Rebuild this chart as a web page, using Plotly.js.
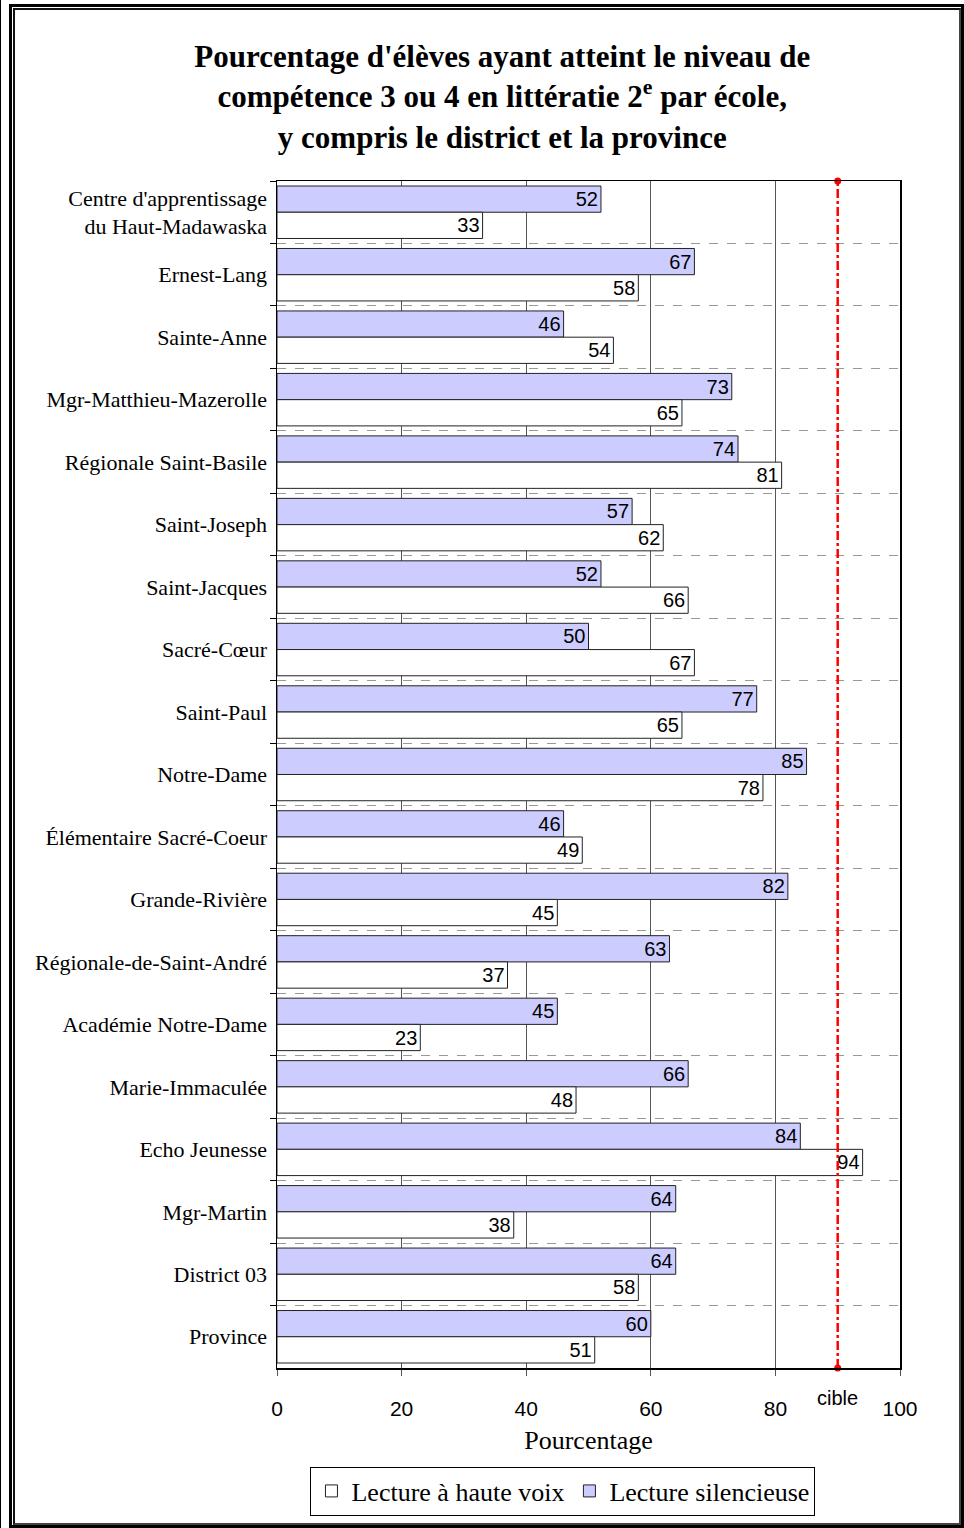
<!DOCTYPE html>
<html>
<head>
<meta charset="utf-8">
<script src="https://cdn.plot.ly/plotly-3.0.1.min.js"></script>
<style>
  html, body { margin:0; padding:0; background:#fff; }
  #wrap { position:relative; width:964px; height:1528px; overflow:hidden; }
  #chart { position:absolute; left:0; top:0; width:964px; height:1528px; }
  .line0 { position:absolute; left:0; top:0; width:1px; height:1528px; background:#000; z-index:5; }
  .frame { position:absolute; left:9px; top:4px; width:955px; height:1524px; box-sizing:border-box; border:3px solid #000; z-index:5; pointer-events:none; }
  .frame2 { position:absolute; left:1px; top:1px; right:0; bottom:0; border-left:2px solid #111; border-top:2px solid #111; border-right:2px solid #444; border-bottom:2px solid #444; box-sizing:border-box; }
</style>
</head>
<body>
<div id="wrap">
  <div id="chart"></div>
  <div class="line0"></div>
  <div class="frame"><div class="frame2"></div></div>
</div>
<script>
const categories = [
  "Centre d'apprentissage<br>du Haut-Madawaska",
  "Ernest-Lang",
  "Sainte-Anne",
  "Mgr-Matthieu-Mazerolle",
  "Régionale Saint-Basile",
  "Saint-Joseph",
  "Saint-Jacques",
  "Sacré-Cœur",
  "Saint-Paul",
  "Notre-Dame",
  "Élémentaire Sacré-Coeur",
  "Grande-Rivière",
  "Régionale-de-Saint-André",
  "Académie Notre-Dame",
  "Marie-Immaculée",
  "Echo Jeunesse",
  "Mgr-Martin",
  "District 03",
  "Province"
];
const silencieuse = [52, 67, 46, 73, 74, 57, 52, 50, 77, 85, 46, 82, 63, 45, 66, 84, 64, 64, 60];
const hauteVoix   = [33, 58, 54, 65, 81, 62, 66, 67, 65, 78, 49, 45, 37, 23, 48, 94, 38, 58, 51];
const cible = 90;
const xTicks = [0, 20, 40, 60, 80, 100];

const serif = "Liberation Serif, Times New Roman, serif";
const sans = "Liberation Sans, Arial, sans-serif";

const traces = [
  {
    type: 'bar', orientation: 'h', name: 'Lecture silencieuse',
    y: categories, x: silencieuse,
    text: silencieuse.map(String), textposition: 'inside', insidetextanchor: 'end',
    constraintext: 'none',
    textfont: { family: sans, size: 20, color: '#000' },
    marker: { color: '#CCCCFF', line: { color: '#222', width: 1 } },
    legendrank: 2, hoverinfo: 'x+y'
  },
  {
    type: 'bar', orientation: 'h', name: 'Lecture à haute voix',
    y: categories, x: hauteVoix,
    text: hauteVoix.map(String), textposition: 'inside', insidetextanchor: 'end',
    constraintext: 'none',
    textfont: { family: sans, size: 20, color: '#000' },
    marker: { color: '#FFFFFF', line: { color: '#222', width: 1 } },
    legendrank: 1, hoverinfo: 'x+y'
  },
  {
    type: 'scatter', mode: 'lines+markers', x: [cible, cible], y: [0, 1],
    yaxis: 'y2', showlegend: false, cliponaxis: false, hoverinfo: 'skip',
    line: { color: '#FF0000', width: 2.5, dash: 'dashdot' },
    marker: { color: '#FF0000', size: 7 }
  }
];

const layout = {
  width: 964, height: 1528,
  margin: { l: 277, r: 64, t: 181, b: 157 },
  paper_bgcolor: 'rgba(0,0,0,0)', plot_bgcolor: '#fff',
  barmode: 'group', bargap: 0.16, bargroupgap: 0,
  showlegend: true,
  title: {
    text: "Pourcentage d'élèves ayant atteint le niveau de<br>compétence 3 ou 4 en littératie 2<sup>e</sup> par école,<br>y compris le district et la province",
    font: { family: serif, size: 31, color: '#000', weight: 'bold' },
    x: 0.521, xref: 'container', xanchor: 'center',
    y: 1 - 67/1528, yref: 'container', yanchor: 'top'
  },
  xaxis: {
    range: [0, 100], tickvals: xTicks, ticktext: xTicks.map(String),
    showgrid: true, gridcolor: '#555', gridwidth: 1,
    showline: true, linecolor: '#000', linewidth: 1.5, mirror: true,
    ticks: 'outside', ticklen: 6, tickcolor: '#555',
    ticklabelstandoff: 15,
    tickfont: { family: sans, size: 21, color: '#000' },
    title: { text: 'Pourcentage', font: { family: serif, size: 26, color: '#000' }, standoff: 12 },
    zeroline: false, fixedrange: true
  },
  yaxis: {
    type: 'category', autorange: 'reversed',
    tickson: 'boundaries', ticks: 'outside', ticklen: 6, tickcolor: '#000',
    showgrid: true, gridcolor: '#999', griddash: 'dash', gridwidth: 1,
    showline: true, linecolor: '#000', linewidth: 1.5, mirror: true,
    tickfont: { family: serif, size: 22, color: '#000' },
    ticklabelstandoff: 4,
    fixedrange: true
  },
  yaxis2: { overlaying: 'y', range: [0, 1], visible: false, fixedrange: true },
  annotations: [
    {
      text: 'cible', x: cible, xref: 'x', y: -0.0252, yref: 'paper',
      xanchor: 'center', yanchor: 'middle', showarrow: false,
      font: { family: sans, size: 20, color: '#000' }
    }
  ],
  legend: {
    orientation: 'h', x: 0.459, xanchor: 'center', y: -0.083, yanchor: 'top',
    bordercolor: '#000', borderwidth: 1, bgcolor: '#fff',
    font: { family: serif, size: 26, color: '#000' },
    traceorder: 'normal', itemwidth: 30
  }
};

Plotly.newPlot('chart', traces, layout, { displayModeBar: false, staticPlot: true });
</script>
</body>
</html>
